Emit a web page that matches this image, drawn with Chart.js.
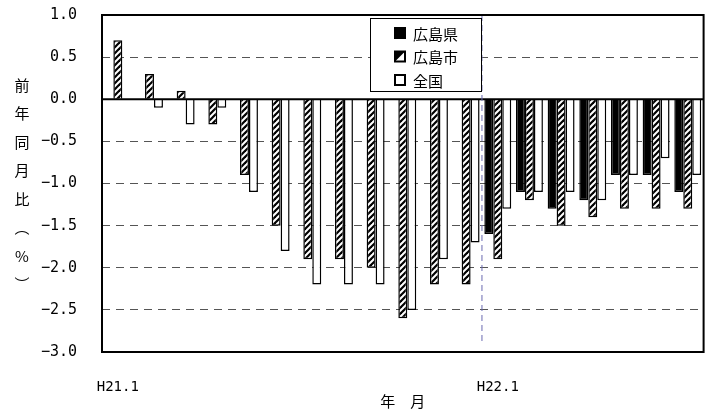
<!DOCTYPE html>
<html>
<head>
<meta charset="utf-8">
<script src="https://cdn.jsdelivr.net/npm/chart.js@4/dist/chart.umd.min.js"></script>
<style>
  html, body { margin: 0; padding: 0; background: #fff; }
  #wrap { width: 715px; height: 416px; }
</style>
</head>
<body>
<div id="wrap"><canvas id="cpi-chart" width="715" height="416"></canvas></div>
<script>
const months = [
  "H21.1", "H21.2", "H21.3", "H21.4", "H21.5", "H21.6", "H21.7", "H21.8",
  "H21.9", "H21.10", "H21.11", "H21.12",
  "H22.1", "H22.2", "H22.3", "H22.4", "H22.5", "H22.6", "H22.7",
];
const prefValues = [
  null, null, null, null, null, null, null, null, null, null, null, null,
  -1.6, -1.1, -1.3, -1.2, -0.9, -0.9, -1.1,
];
const cityValues = [
  0.7, 0.3, 0.1, -0.3, -0.9, -1.5, -1.9, -1.9, -2.0, -2.6, -2.2, -2.2,
  -1.9, -1.2, -1.5, -1.4, -1.3, -1.3, -1.3,
];
const nationValues = [
  null, -0.1, -0.3, -0.1, -1.1, -1.8, -2.2, -2.2, -2.2, -2.5, -1.9, -1.7,
  -1.3, -1.1, -1.1, -1.2, -0.9, -0.7, -0.9,
];
const seriesNames = ["広島県", "広島市", "全国"];
const yTitleChars = ["前", "年", "同", "月", "比", "︵", "%", "︶"];

const jpFont = "'Noto Sans CJK JP', 'Noto Sans', sans-serif";
const numFont = "'DejaVu Sans Mono', 'Liberation Mono', monospace";

// diagonal hatch for the city series
const makeHatch = () => {
  const c = document.createElement("canvas");
  c.width = 6;
  c.height = 6;
  const g = c.getContext("2d");
  g.fillStyle = "#fff";
  g.fillRect(0, 0, 6, 6);
  g.strokeStyle = "#000";
  g.lineWidth = 2.2;
  [[-6, 6, 6, -6], [0, 6, 6, 0], [0, 12, 12, 0]].forEach(([x1, y1, x2, y2]) => {
    g.beginPath();
    g.moveTo(x1, y1);
    g.lineTo(x2, y2);
    g.stroke();
  });
  return g.createPattern(c, "repeat");
};

const decor = {
  id: "decor",
  afterDraw(chart) {
    const { ctx, chartArea: a, scales } = chart;
    const x = scales.x;
    const y = scales.y;
    ctx.save();

    // zero line
    ctx.strokeStyle = "#000";
    ctx.lineWidth = 2;
    const y0 = y.getPixelForValue(0);
    ctx.beginPath();
    ctx.moveTo(a.left, y0);
    ctx.lineTo(a.right, y0);
    ctx.stroke();

    // dashed year divider between H21.12 and H22.1
    const xd = (x.getPixelForValue(11) + x.getPixelForValue(12)) / 2;
    ctx.strokeStyle = "#6a6ab0";
    ctx.lineWidth = 1;
    ctx.setLineDash([6, 4]);
    ctx.beginPath();
    ctx.moveTo(xd, a.top);
    ctx.lineTo(xd, a.bottom - 7);
    ctx.stroke();
    ctx.setLineDash([]);

    // frame
    ctx.strokeStyle = "#000";
    ctx.lineWidth = 2;
    ctx.strokeRect(a.left, a.top, a.right - a.left, a.bottom - a.top);

    // legend box
    const lx = 370, ly = 18, lw = 111, lh = 73;
    ctx.fillStyle = "#fff";
    ctx.fillRect(lx, ly, lw, lh);
    ctx.lineWidth = 1;
    ctx.strokeRect(lx + 0.5, ly + 0.5, lw, lh);
    ctx.font = "15px " + jpFont;
    ctx.textBaseline = "middle";
    seriesNames.forEach((name, i) => {
      const cy = ly + 15 + i * 23.5;
      const sx = 395, sy = cy - 5, s = 10;
      ctx.fillStyle = "#fff";
      ctx.fillRect(sx, sy, s, s);
      ctx.fillStyle = "#000";
      if (i === 0) {
        ctx.fillRect(sx, sy, s, s);
      } else if (i === 1) {
        ctx.beginPath();
        ctx.moveTo(sx, sy);
        ctx.lineTo(sx + s, sy);
        ctx.lineTo(sx, sy + s);
        ctx.closePath();
        ctx.fill();
      }
      ctx.lineWidth = 2;
      ctx.strokeRect(sx, sy, s, s);
      ctx.fillStyle = "#000";
      ctx.textAlign = "left";
      ctx.fillText(name, 413, cy + 1);
    });

    // vertical y title
    ctx.font = "15px " + jpFont;
    ctx.textAlign = "center";
    yTitleChars.forEach((ch, i) => {
      ctx.fillText(ch, 22, 85 + i * 28.5);
    });

    ctx.restore();
  },
};

const ctx = document.getElementById("cpi-chart");
const hatch = makeHatch();

new Chart(ctx, {
  type: "bar",
  data: {
    labels: months,
    datasets: [
      {
        label: seriesNames[0],
        data: prefValues,
        backgroundColor: "#000",
        borderColor: "#000",
        borderWidth: 1.5,
      },
      {
        label: seriesNames[1],
        data: cityValues,
        backgroundColor: hatch,
        borderColor: "#000",
        borderWidth: 1.5,
      },
      {
        label: seriesNames[2],
        data: nationValues,
        backgroundColor: "#fff",
        borderColor: "#000",
        borderWidth: 1.5,
      },
    ],
  },
  options: {
    responsive: false,
    animation: false,
    devicePixelRatio: 1,
    layout: { padding: { top: 15, right: 9, left: 0, bottom: 0 } },
    datasets: {
      bar: { categoryPercentage: 0.85, barPercentage: 1.0 },
    },
    plugins: {
      legend: { display: false },
      tooltip: { enabled: false },
    },
    scales: {
      x: {
        grid: { display: false, drawTicks: false },
        border: { display: false },
        ticks: {
          autoSkip: false,
          maxRotation: 0,
          padding: 27,
          color: "#000",
          font: { family: numFont, size: 14 },
          callback: function (value) {
            const label = this.getLabelForValue(value);
            return label.endsWith(".1") ? label : "";
          },
        },
        title: {
          display: true,
          text: "年　月",
          color: "#000",
          font: { family: jpFont, size: 15 },
          padding: { top: 0, bottom: 6 },
        },
        afterFit: (scale) => {
          scale.height = 64;
        },
      },
      y: {
        min: -3,
        max: 1,
        grid: {
          color: "#555",
          lineWidth: 1,
          drawTicks: false,
        },
        border: { display: false, dash: [8, 6] },
        ticks: {
          stepSize: 0.5,
          padding: 25,
          color: "#000",
          font: { family: numFont, size: 15 },
          callback: (value) => value.toFixed(1).replace("-", "\u2212"),
        },
        afterFit: (scale) => {
          scale.width = 102;
          scale.paddingTop = 0;
          scale.paddingBottom = 0;
        },
      },
    },
  },
  plugins: [decor],
});
</script>
</body>
</html>
